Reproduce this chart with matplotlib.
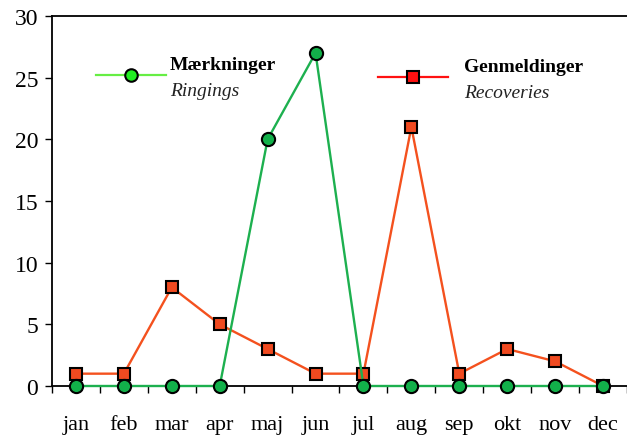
import matplotlib.pyplot as plt
from matplotlib.lines import Line2D

months = ['jan', 'feb', 'mar', 'apr', 'maj', 'jun', 'jul', 'aug', 'sep', 'okt', 'nov', 'dec']
ringings = [0, 0, 0, 0, 20, 27, 0, 0, 0, 0, 0, 0]
recoveries = [1, 1, 8, 5, 3, 1, 1, 21, 1, 3, 2, 0]

plt.rcParams['font.family'] = ['Liberation Serif', 'DejaVu Serif']

fig = plt.figure(figsize=(6.27, 4.39), dpi=100)
ax = fig.add_axes([52 / 627, 1 - 387 / 439, (627 - 52) / 627, 370 / 439])

x = list(range(len(months)))
ax.plot(x, recoveries, color='#f4511e', lw=1.7, marker='s', ms=9,
        mfc='#f04a20', mec='black', mew=1.5, zorder=4, clip_on=False)
ax.plot(x, ringings, color='#1db04f', lw=1.7, marker='o', ms=9.5,
        mfc='#12b04a', mec='black', mew=1.5, zorder=5, clip_on=False)

ax.set_ylim(0, 30)
ax.set_xlim(-0.5, 11.45)
ax.set_yticks(range(0, 31, 5))
ax.set_xticks(x)
ax.set_xticklabels(months)
ax.set_xticks([i - 0.5 for i in range(13)], minor=True)
ax.tick_params(axis='x', which='major', length=0, pad=21, labelsize=16)
ax.tick_params(axis='x', which='minor', length=5, width=1, direction='out')
ax.tick_params(axis='y', length=5, width=1, direction='out', pad=5, labelsize=17)
ax.spines['right'].set_visible(False)
for s in ['left', 'bottom', 'top']:
    ax.spines[s].set_linewidth(1.3)

# legend drawn by hand
def legend_item(x0, x1, y, color, marker, mfc, title, sub, tx):
    xs = [x0 / 627, x1 / 627]
    ys = [1 - y / 439] * 2
    fig.add_artist(Line2D(xs, ys, color=color, lw=1.6))
    fig.add_artist(Line2D([(x0 + x1) / 2 / 627], [1 - y / 439], marker=marker,
                          ms=9, mfc=mfc, mec='black', mew=1.5, lw=0))
    fig.text(tx / 627, 1 - (y - 11) / 439, title, fontsize=14, fontweight='bold',
             va='center', ha='left')
    fig.text(tx / 627, 1 - (y + 15) / 439, sub, fontsize=14, style='italic',
             va='center', ha='left', color='#222222')

legend_item(96, 166, 76, '#66ee44', 'o', '#22ee22', 'Mærkninger', 'Ringings', 170)
legend_item(378, 448, 78, '#ff1111', 's', '#ff1111', 'Genmeldinger', 'Recoveries', 464)

fig.savefig('out.png', dpi=100)
